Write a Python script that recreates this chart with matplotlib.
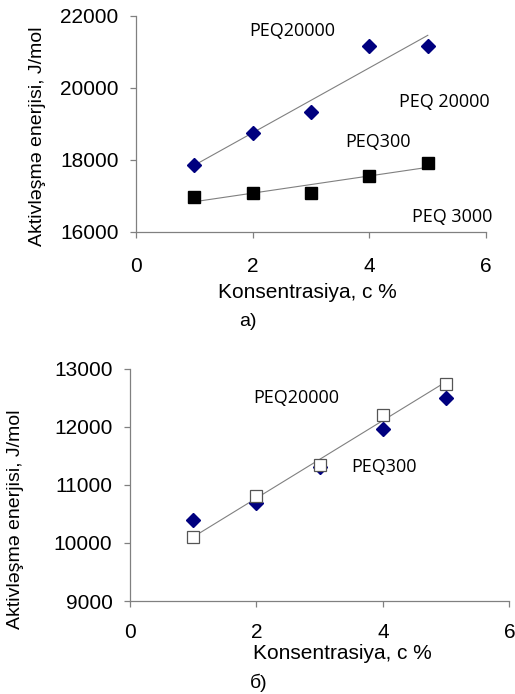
import numpy as np
import matplotlib
matplotlib.use("Agg")
import matplotlib.pyplot as plt

# concentration, c %
conc = [1, 2, 3, 4, 5]

# panel a)
peq20000_a = [17860, 18760, 19320, 21170, 21170]
peq3000_a = [16960, 17070, 17070, 17560, 17910]

# panel б)
peq300_b = [10400, 10680, 11310, 11960, 12500]
peq20000_b = [10100, 10800, 11340, 12200, 12740]

ylabel = "Aktivləşmə enerjisi, J/mol"
xlabel = "Konsentrasiya, c %"

plt.rcParams['font.family'] = ['Liberation Sans', 'DejaVu Sans']

fig = plt.figure(figsize=(5.15, 6.94), dpi=100)
axA = fig.add_axes([0.264, 0.666, 0.680, 0.311])
axB = fig.add_axes([0.252, 0.134, 0.737, 0.335])

GRAY = "#808080"


def style(ax, ylim, yticks, xpad):
    ax.set_xlim(0, 6)
    ax.set_ylim(*ylim)
    ax.set_xticks([0, 2, 4, 6])
    ax.set_yticks(yticks)
    for s in ("top", "right"):
        ax.spines[s].set_visible(False)
    for s in ("left", "bottom"):
        ax.spines[s].set_color(GRAY)
        ax.spines[s].set_linewidth(0.9)
    ax.tick_params(axis="both", colors=GRAY, length=4.5, width=0.9,
                   labelsize=15, labelcolor="black")
    ax.tick_params(axis="x", pad=xpad)
    ax.tick_params(axis="y", pad=8)
    ax.patch.set_visible(False)


def trend(ax, y):
    k, b = np.polyfit(conc, y, 1)
    xs = np.array([conc[0], conc[-1]])
    ax.plot(xs, k * xs + b, color=GRAY, lw=0.8, zorder=1)


# ---- a)
style(axA, (16000, 22000), [16000, 18000, 20000, 22000], 14)
trend(axA, peq20000_a)
trend(axA, peq3000_a)
axA.plot(conc, peq20000_a, "D", ms=7.5, color="#00007f", ls="none", zorder=3)
axA.plot(conc, peq3000_a, "s", ms=8.5, color="black", ls="none", zorder=3)
lab = dict(fontsize=13, family=['Open Sans', 'DejaVu Sans'], ha="center", va="center", clip_on=False)
axA.text(2.67, 21580, "PEQ20000", **lab)
axA.text(5.28, 19610, "PEQ 20000", **lab)
axA.text(4.15, 18500, "PEQ300", **lab)
axA.text(5.41, 16420, "PEQ 3000", **lab)

# ---- б)
style(axB, (9000, 13000), [9000, 10000, 11000, 12000, 13000], 11)
trend(axB, peq20000_b)
axB.plot(conc, peq300_b, "D", ms=7.5, color="#00007f", ls="none", zorder=2)
axB.plot(conc, peq20000_b, "s", ms=8, mfc="white", mec="#555555", mew=0.9,
         ls="none", zorder=3)
axB.text(2.63, 12490, "PEQ20000", **lab)
axB.text(4.02, 11310, "PEQ300", **lab)

# axis titles
fig.text(0.072, 0.803, ylabel, rotation=90, ha="center", va="center", fontsize=14)
fig.text(0.596, 0.578, xlabel, ha="center", va="center", fontsize=15)
fig.text(0.482, 0.537, "a)", ha="center", va="center", fontsize=14)

fig.text(0.031, 0.252, ylabel, rotation=90, ha="center", va="center", fontsize=14)
fig.text(0.664, 0.059, xlabel, ha="center", va="center", fontsize=15)
fig.text(0.503, 0.016, "б)", ha="center", va="center", fontsize=14)

fig.savefig("out.png", dpi=100)
